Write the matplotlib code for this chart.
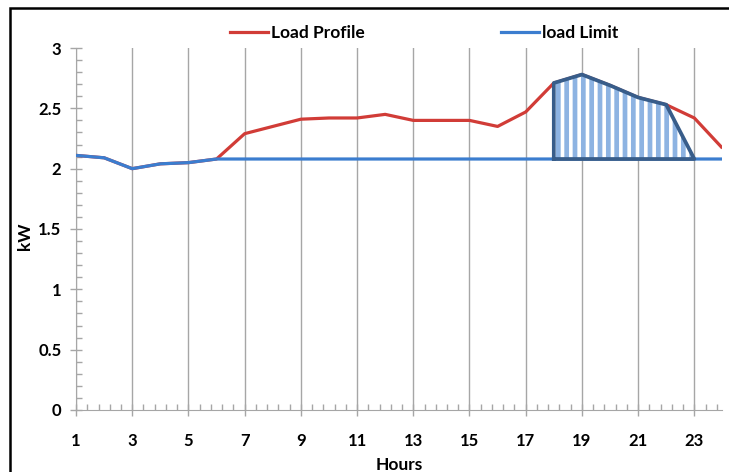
import numpy as np
import matplotlib.pyplot as plt
from matplotlib.lines import Line2D
from matplotlib.patches import Rectangle
from matplotlib.ticker import FixedLocator

plt.rcParams["font.family"] = ["Lato", "DejaVu Sans"]
plt.rcParams["font.weight"] = "bold"
plt.rcParams["hatch.linewidth"] = 2.6

# hourly demand and the contracted limit (kW)
hours = list(range(1, 25))
load_profile = [2.11, 2.09, 2.00, 2.04, 2.05, 2.08, 2.29, 2.35, 2.41, 2.42,
                2.42, 2.45, 2.40, 2.40, 2.40, 2.35, 2.47, 2.71, 2.78, 2.69,
                2.59, 2.53, 2.42, 2.17]
limit_kw = 2.08
# limit follows the demand during the early hours, then stays flat
load_limit = [v if h <= 6 else limit_kw for h, v in zip(hours, load_profile)]

# peak above the limit to be shaved (hours 18-23)
peak_start, peak_end = 18, 23

RED = "#d13c37"
BLUE = "#3b7dcf"
DARK = "#385d8a"
STRIPE = "#8db3e2"
AXIS = "#a6a6a6"

fig = plt.figure(figsize=(7.29, 4.72), dpi=100)
ax = fig.add_axes([0.1043, 0.1314, 0.8867, 0.7669])

ax.plot(hours, load_profile, color=RED, lw=2.3, solid_capstyle="butt", zorder=3)
ax.plot(hours, load_limit, color=BLUE, lw=2.3, solid_capstyle="butt", zorder=4)

# shaded excess area between profile and limit
px = [h for h in hours if peak_start <= h <= peak_end - 1]
py = [load_profile[h - 1] for h in px]
poly_x = [peak_start] + px + [peak_end, peak_start]
poly_y = [limit_kw] + py + [limit_kw, limit_kw]
ax.fill(poly_x, poly_y, facecolor=STRIPE, edgecolor="white", hatch="||",
        linewidth=0, zorder=5)
ax.plot(poly_x, poly_y, color=DARK, lw=2.7, solid_joinstyle="round", zorder=6)

ax.set_xlim(1, 24)
ax.set_ylim(0, 3)
ax.xaxis.set_major_locator(FixedLocator(range(1, 24, 2)))
ax.xaxis.set_minor_locator(FixedLocator(np.arange(1, 24, 0.4)))
ax.yaxis.set_major_locator(FixedLocator(np.arange(0, 3.01, 0.5)))
ax.yaxis.set_minor_locator(FixedLocator(np.arange(0, 3.01, 0.1)))
ax.set_yticklabels(["0", "0.5", "1", "1.5", "2", "2.5", "3"])

ax.tick_params(which="major", direction="inout", length=9, width=1,
               color=AXIS, labelsize=12)
ax.tick_params(which="minor", direction="in", length=4, width=1, color=AXIS)
ax.tick_params(axis="x", which="major", pad=12)
ax.tick_params(axis="y", which="major", pad=6)

for side in ("top", "right"):
    ax.spines[side].set_visible(False)
for side in ("left", "bottom"):
    ax.spines[side].set_color(AXIS)
ax.grid(axis="x", which="major", color=AXIS, lw=1)
ax.set_axisbelow(True)

ax.set_xlabel("Hours", fontsize=12.5, fontweight="bold", labelpad=6)
ax.set_ylabel("kW", fontsize=12.5, fontweight="bold")
ax.yaxis.set_label_coords(-0.066, 0.48)

handles = [Line2D([], [], color=RED, lw=2.3), Line2D([], [], color=BLUE, lw=2.3)]
fig.legend(handles, ["Load Profile", "load Limit"], loc="center",
           bbox_to_anchor=(0.582, 0.93), ncol=2, frameon=False,
           handlelength=2.2, handletextpad=0.15, columnspacing=7.85,
           prop={"size": 12.5, "weight": "bold"})

# chart area border (left and top edges)
fig.patches.append(Rectangle((10 / 729, -0.1), 1.2, 1.1 - 8 / 472,
                             transform=fig.transFigure, fill=False,
                             edgecolor="black", lw=1.8))

fig.savefig("out.png", dpi=100)
